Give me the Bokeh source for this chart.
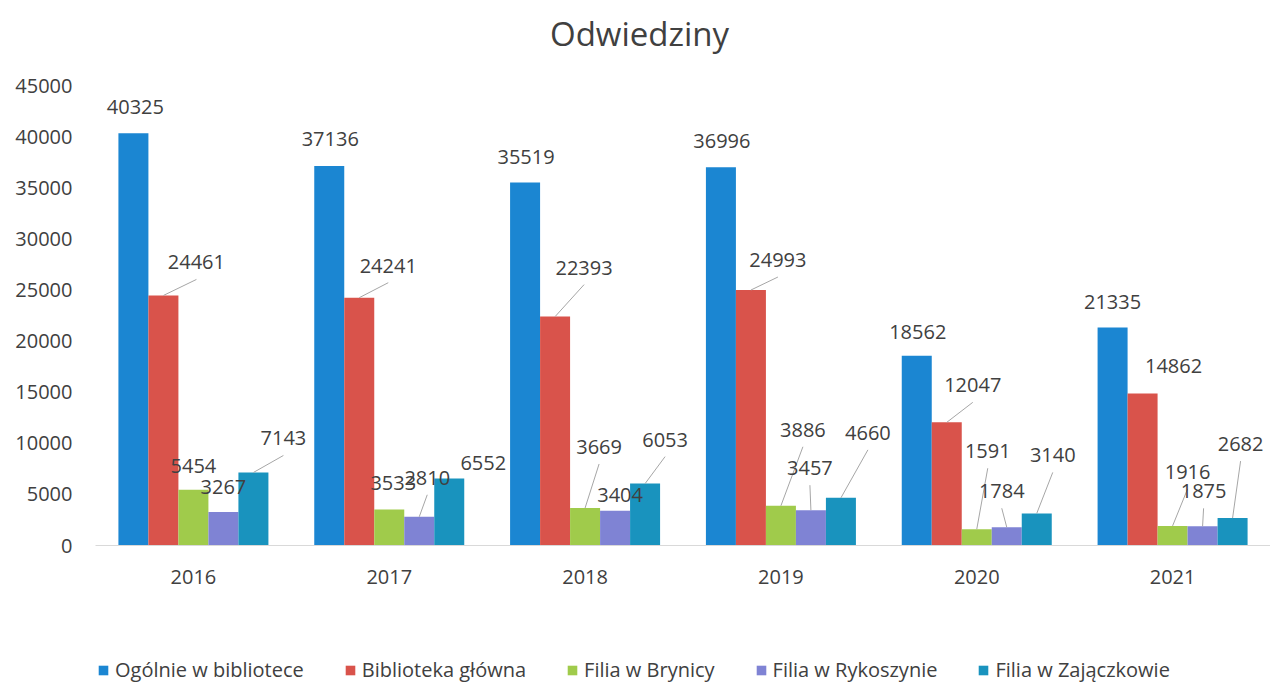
from bokeh.plotting import figure
from bokeh.models import (ColumnDataSource, LabelSet, Label, Legend, LegendItem,
                          FixedTicker, Range1d)
from bokeh.layouts import column
from bokeh.core.properties import value
from bokeh.embed import file_html
from bokeh.resources import INLINE

# ---------------- data ----------------
years = ["2016", "2017", "2018", "2019", "2020", "2021"]
series_names = ["Ogólnie w bibliotece", "Biblioteka główna", "Filia w Brynicy",
                "Filia w Rykoszynie", "Filia w Zajączkowie"]
ogolnie = [40325, 37136, 35519, 36996, 18562, 21335]
glowna = [24461, 24241, 22393, 24993, 12047, 14862]
brynica = [5454, 3533, 3669, 3886, 1591, 1916]
rykoszyn = [3267, 2810, 3404, 3457, 1784, 1875]
zajaczkow = [7143, 6552, 6053, 4660, 3140, 2682]
y_ticks = [0, 5000, 10000, 15000, 20000, 25000, 30000, 35000, 40000, 45000]
chart_title = "Odwiedziny"

# ---------------- style / placement ----------------
colors = ["#1B86D2", "#D9534B", "#A0CB4B", "#7F83D4", "#1993BE"]
text_color = "#404040"
FONT = "Open Sans"

# manual data-label placement (screen px, relative to the top centre of each bar)
label_dx = [[2, 33, 0, 0, 30], [1, 29, 4, 8, 34], [1, 29, 14, 5, 20],
            [1, 27, 22, -1, 27], [1, 26, 11, -5, 16], [0, 31, 15, 1, 8]]
label_dy = [[-26, -33, -24, -25, -34], [-27, -32, -26, -39, -16], [-25, -49, -61, -16, -44],
            [-26, -30, -76, -42, -65], [-24, -37, -78, -36, -58], [-25, -28, -54, -35, -74]]
leader = [[0, 1, 0, 0, 1], [0, 1, 0, 1, 0], [0, 1, 1, 0, 1],
          [0, 1, 1, 1, 1], [0, 1, 1, 1, 1], [0, 0, 1, 1, 1]]

W = 1270
H_TITLE, H_MAIN, H_LEG = 60, 590, 34
LEFT, TOP = 95, 25
FW, FH = 1175, 460
X0, X1 = -0.5, 5.5
YMAX = 45000
px_x = FW / (X1 - X0)
upy = YMAX / FH
bar_px = 30
bw = bar_px / px_x


def strip(h):
    # the column layout aligns this strip's frame with the main chart's frame,
    # so its x range runs from the frame's left edge to the page's right edge
    f = figure(width=W, height=h, x_range=Range1d(LEFT, W), y_range=Range1d(0, h),
               min_border=0, x_axis_type=None, y_axis_type=None,
               output_backend="svg", toolbar_location=None)
    f.outline_line_color = None
    f.xgrid.visible = False
    f.ygrid.visible = False
    f.background_fill_color = "white"
    f.border_fill_color = "white"
    return f


# ---------------- title strip ----------------
tf = strip(H_TITLE)
tf.add_layout(Label(x=639, y=H_TITLE - 33, text=chart_title, text_align="center",
                    text_baseline="middle", text_font=FONT, text_font_size="33px",
                    text_color=text_color))

# ---------------- main chart ----------------
p = figure(width=W, height=H_MAIN, x_range=Range1d(X0, X1), y_range=Range1d(0, YMAX),
           min_border_left=LEFT, min_border_right=0, min_border_top=TOP,
           min_border_bottom=H_MAIN - TOP - FH, output_backend="svg",
           toolbar_location=None)
p.outline_line_color = None
p.xgrid.visible = False
p.ygrid.visible = False
p.background_fill_color = "white"
p.border_fill_color = "white"

all_series = [ogolnie, glowna, brynica, rykoszyn, zajaczkow]
lab_x, lab_y, lab_t = [], [], []
l_x0, l_y0, l_x1, l_y1 = [], [], [], []
for k, vals in enumerate(all_series):
    xs = [i + (k - 2) * bw for i in range(len(years))]
    src = ColumnDataSource(dict(x=xs, top=vals))
    p.vbar(x="x", top="top", width=bw, bottom=0, source=src,
           fill_color=colors[k], line_color=None)
    for i, v in enumerate(vals):
        lx = xs[i] + label_dx[i][k] / px_x
        ly = v - label_dy[i][k] * upy
        lab_x.append(lx)
        lab_y.append(ly)
        lab_t.append(str(v))
        if leader[i][k]:
            l_x0.append(xs[i])
            l_y0.append(v)
            l_x1.append(lx)
            l_y1.append(v - (label_dy[i][k] + 17) * upy)

p.segment(x0=l_x0, y0=l_y0, x1=l_x1, y1=l_y1, line_color="#A6A6A6", line_width=1)

lab_src = ColumnDataSource(dict(x=lab_x, y=lab_y, t=lab_t))
labels = LabelSet(x="x", y="y", text="t", source=lab_src, text_align="center",
                  text_baseline="middle", text_font=value(FONT),
                  text_font_size=value("20px"), text_color=value(text_color))
p.add_layout(labels)

p.yaxis.ticker = FixedTicker(ticks=y_ticks)
p.yaxis.major_label_overrides = {t: str(t) for t in y_ticks}
p.yaxis.axis_line_color = None
p.yaxis.major_tick_line_color = None
p.yaxis.minor_tick_line_color = None
p.yaxis.major_tick_out = 0
p.yaxis.major_tick_in = 0
p.yaxis.major_label_standoff = 23
p.yaxis.major_label_text_font = FONT
p.yaxis.major_label_text_font_size = "20px"
p.yaxis.major_label_text_color = text_color

p.xaxis.ticker = FixedTicker(ticks=list(range(len(years))))
p.xaxis.major_label_overrides = {i: y for i, y in enumerate(years)}
p.xaxis.axis_line_color = "#D9D9D9"
p.xaxis.major_tick_line_color = None
p.xaxis.minor_tick_line_color = None
p.xaxis.major_tick_out = 0
p.xaxis.major_tick_in = 0
p.xaxis.major_label_standoff = 24
p.xaxis.major_label_text_font = FONT
p.xaxis.major_label_text_font_size = "20px"
p.xaxis.major_label_text_color = text_color

# ---------------- legend strip ----------------
lf = strip(H_LEG)
legend_items = []
for k, name in enumerate(series_names):
    # one off-screen bar per series, only so that the legend has a swatch to draw
    r = lf.vbar(x=[-5000], bottom=[-20], top=[-10], width=1,
                fill_color=colors[k], line_color=None)
    legend_items.append(LegendItem(label=name, renderers=[r]))
legend = Legend(items=legend_items, location=(2, 1), orientation="horizontal",
                glyph_width=12, glyph_height=12, label_standoff=6, spacing=40,
                padding=0, margin=0, border_line_color=None, background_fill_alpha=0,
                label_text_font=FONT, label_text_font_size="20px",
                label_text_color=text_color)
lf.add_layout(legend)

layout = column(tf, p, lf, spacing=0)
open("out.html", "w").write(file_html(layout, INLINE))
